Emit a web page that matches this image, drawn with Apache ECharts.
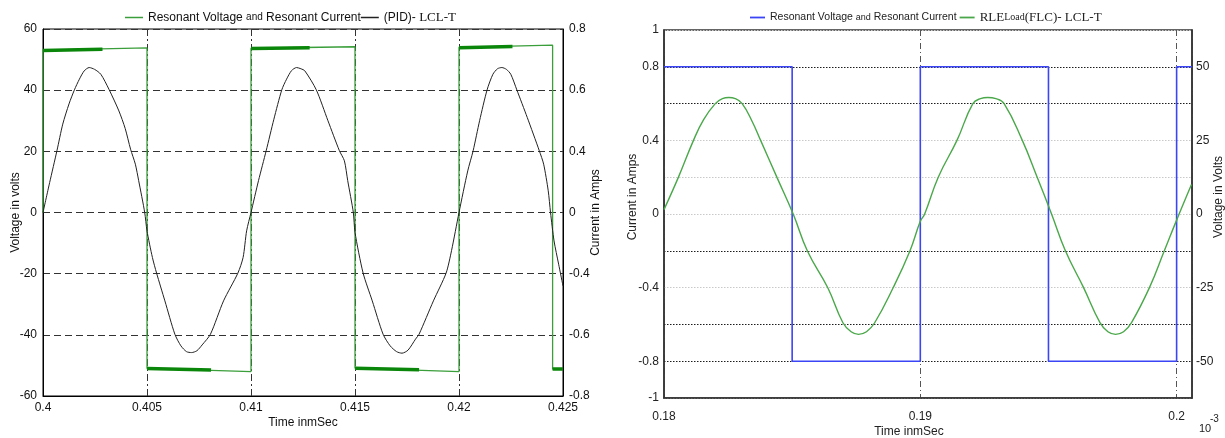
<!DOCTYPE html>
<html>
<head>
<meta charset="utf-8">
<script src="https://cdn.jsdelivr.net/npm/echarts@6/dist/echarts.min.js"></script>
<style>
  html, body { margin: 0; padding: 0; background: #fff; }
  #wrap { position: relative; width: 1225px; height: 438px; overflow: hidden; }
  #pid { position: absolute; left: 0; top: 0; width: 610px; height: 438px; }
  #flc { position: absolute; left: 610px; top: 0; width: 615px; height: 438px; filter: blur(0.55px); }
</style>
</head>
<body>
<div id="wrap"><div id="pid"></div><div id="flc"></div></div>
<script>
// ---- PID controller panel (time in ms, voltage in V) ----
const pidTimeTicks = ['0.4', '0.405', '0.41', '0.415', '0.42', '0.425'];
const pidCurrentTicks = ['-0.8', '-0.6', '-0.4', '0', '0.4', '0.6', '0.8'];

// inverter output voltage (square wave)
const pidVoltage = [
  [0.4, 0], [0.4, 53.1], [0.405, 53.8], [0.405, -51.0], [0.41, -52.0],
  [0.41, 53.7], [0.415, 54.2], [0.415, -50.9], [0.42, -52.0],
  [0.42, 54.0], [0.4245, 54.7], [0.4245, -51.2], [0.425, -51.3]
];

// switching ripple right after each transition
const pidRipple = [
  [[0.4, 53.0], [0.40286, 53.4]],
  [[0.405, -51.0], [0.40808, -51.5]],
  [[0.41, 53.6], [0.41282, 53.9]],
  [[0.415, -50.9], [0.41808, -51.4]],
  [[0.42, 53.9], [0.42257, 54.3]],
  [[0.4245, -51.2], [0.425, -51.2]]
];

// resonant current trace
const pidCurrent = [
  [0.4, 0], [0.40032, 9.8], [0.40067, 20.2], [0.40095, 28.9], [0.40125, 35.5],
  [0.40151, 40.1], [0.40175, 43.6], [0.40198, 46.3], [0.40222, 47.4], [0.40248, 46.8],
  [0.40278, 45.2], [0.40317, 40.3], [0.40365, 33.2], [0.40395, 27.5], [0.40421, 20.7],
  [0.40444, 15.8], [0.4046, 10.4], [0.40489, 0], [0.405, -6.0], [0.40526, -14.7],
  [0.40546, -19.8], [0.40586, -28.9], [0.40634, -39.8], [0.40663, -43.6], [0.4069, -45.5],
  [0.40714, -45.8], [0.4074, -45.2], [0.40765, -43.3], [0.40805, -39.8], [0.40868, -28.9],
  [0.40937, -19.8], [0.40962, -14.7], [0.40979, -6.0], [0.41, 0],
  [0.41036, 10.4], [0.41073, 20.2], [0.4111, 30.5], [0.41148, 40.1], [0.41171, 43.6],
  [0.41195, 46.4], [0.41219, 47.4], [0.4124, 47.0], [0.41259, 46.3], [0.41314, 40.1],
  [0.4137, 30.0], [0.41425, 20.2], [0.41449, 16.9], [0.41465, 10.4], [0.41492, 0],
  [0.415, -6.5], [0.41539, -19.8], [0.41583, -28.9], [0.41635, -39.8], [0.41669, -43.6],
  [0.417, -45.5], [0.41726, -46.0], [0.41755, -45.0], [0.41791, -41.4], [0.41808, -39.8],
  [0.41877, -28.9], [0.41938, -19.8], [0.41964, -12.5], [0.42, 0],
  [0.42042, 13.6], [0.42068, 20.2], [0.42099, 30.0], [0.42135, 40.1], [0.42163, 45.2],
  [0.42185, 47.0], [0.42206, 47.4], [0.42228, 46.8], [0.42249, 45.2], [0.42278, 40.1],
  [0.42328, 31.1], [0.42386, 20.2], [0.42407, 15.8], [0.42429, 7.1], [0.4244, 0],
  [0.42457, -9.3], [0.42479, -16.9], [0.425, -24.0]
];

// ---- FLC controller panel (time in ms x 10^-3) ----
const flcTimeTicks = ['0.18', '0.19', '0.2'];
const flcCurrentTicks = ['1', '0.8', '0.4', '0', '-0.4', '-0.8', '-1'];
const flcVoltTicks = ['50', '25', '0', '-25', '-50'];

const flcVoltage = [
  [0.18, 50], [0.185, 50], [0.185, -50], [0.19, -50], [0.19, 50],
  [0.195, 50], [0.195, -50], [0.2, -50], [0.2, 50], [0.2006, 50]
];

const flcCurrent = [
  [0.18, 0.024], [0.18056, 0.199], [0.18115, 0.40], [0.18154, 0.512], [0.182, 0.60],
  [0.18228, 0.627], [0.18253, 0.633], [0.18278, 0.627], [0.18305, 0.60], [0.18344, 0.503],
  [0.18377, 0.40], [0.18442, 0.195], [0.18504, 0], [0.1856, -0.2025], [0.18639, -0.401],
  [0.18698, -0.591], [0.1873, -0.64], [0.18759, -0.654], [0.1879, -0.64], [0.18822, -0.591],
  [0.18894, -0.401], [0.18959, -0.2025], [0.19, -0.04], [0.19017, 0], [0.1907, 0.2],
  [0.19143, 0.4], [0.19205, 0.6], [0.19235, 0.627], [0.19263, 0.633], [0.19295, 0.627],
  [0.19327, 0.6], [0.19398, 0.4], [0.19456, 0.2], [0.19512, 0], [0.19566, -0.2],
  [0.19637, -0.4], [0.19701, -0.59], [0.19732, -0.64], [0.19762, -0.654], [0.19793, -0.64],
  [0.19824, -0.59], [0.19894, -0.4], [0.19952, -0.2], [0.19998, -0.04], [0.20058, 0.16]
];

const SANS = "'Liberation Sans', Arial, sans-serif";
const SERIF = "'Liberation Serif', 'Times New Roman', serif";

const fmt = v => String(Math.round(v * 1000) / 1000);

// ---------------- left panel ----------------
const pidChart = echarts.init(document.getElementById('pid'), null, { renderer: 'canvas' });
const pidGreen = '#3a9e3a';
const pidSeries = [
  {
    name: 'Resonant Voltage and Resonant Current', type: 'line', yAxisIndex: 0,
    data: pidVoltage, symbol: 'none', lineStyle: { color: pidGreen, width: 1.3 }, itemStyle: { color: pidGreen },
    z: 3
  }
];
pidRipple.forEach(seg => {
  pidSeries.push({
    type: 'line', yAxisIndex: 0, data: seg, symbol: 'none', silent: true,
    lineStyle: { color: '#0a860a', width: 3.5 }, z: 4
  });
});
pidSeries.push({
  name: '(PID)- LCL-T', type: 'line', yAxisIndex: 0, data: pidCurrent, symbol: 'none', smooth: 0.25,
  lineStyle: { color: '#222', width: 1 }, itemStyle: { color: '#222' }, z: 5
});

pidChart.setOption({
  animation: false,
  textStyle: { fontFamily: SANS },
  grid: {
    left: 43, top: 29, width: 520, height: 367, outerBoundsMode: 'none', containLabel: false,
    show: true, borderColor: '#000', borderWidth: 1
  },
  legend: {
    left: 125, top: 11, padding: 0, itemGap: 0, itemWidth: 18, itemHeight: 1.5, icon: 'rect',
    data: ['Resonant Voltage and Resonant Current', '(PID)- LCL-T'],
    formatter: name => name === '(PID)- LCL-T'
      ? '{t|(PID)- }{r|LCL-T}'
      : '{t|Resonant Voltage }{s|and}{t| Resonant Current}',
    textStyle: {
      color: '#111', fontSize: 12, fontFamily: SANS,
      rich: {
        t: { fontSize: 12, fontFamily: SANS, color: '#111' },
        s: { fontSize: 10, fontFamily: SANS, color: '#111' },
        r: { fontSize: 13, fontFamily: SERIF, color: '#111' }
      }
    }
  },
  xAxis: {
    type: 'value', min: 0.4, max: 0.425, interval: 0.005,
    axisLine: { onZero: false, lineStyle: { color: '#000', width: 1 } },
    axisTick: { show: false },
    axisLabel: {
      margin: 6, color: '#111', fontSize: 12, showMinLabel: true, showMaxLabel: true,
      formatter: v => pidTimeTicks[Math.round((v - 0.4) / 0.005)]
    },
    splitLine: { show: true, lineStyle: { color: '#333', width: 1, type: [7, 3, 2, 3] } },
    name: 'Time inmSec', nameLocation: 'middle', nameGap: 21, nameMoveOverlap: false,
    nameTextStyle: { color: '#111', fontSize: 12, fontFamily: SANS }
  },
  yAxis: [
    {
      type: 'value', min: -60, max: 60, interval: 20, position: 'left',
      axisLine: { show: true, onZero: false, lineStyle: { color: '#000', width: 1 } },
      axisTick: { show: false },
      axisLabel: { margin: 6, color: '#111', fontSize: 12, formatter: fmt },
      splitLine: { show: true, lineStyle: { color: '#333', width: 1, type: [7, 4] } },
      name: 'Voltage in volts', nameLocation: 'middle', nameGap: 21, nameMoveOverlap: false,
      nameTextStyle: { color: '#111', fontSize: 12, fontFamily: SANS }
    },
    {
      type: 'value', min: -60, max: 60, interval: 20, position: 'right',
      axisLine: { show: true, onZero: false, lineStyle: { color: '#000', width: 1 } },
      axisTick: { show: false },
      axisLabel: {
        margin: 6, color: '#111', fontSize: 12,
        formatter: v => pidCurrentTicks[Math.round((v + 60) / 20)]
      },
      splitLine: { show: false },
      name: 'Current in Amps', nameLocation: 'middle', nameGap: 27, nameMoveOverlap: false,
      nameTextStyle: { color: '#111', fontSize: 12, fontFamily: SANS }
    }
  ],
  series: pidSeries
});

// ---------------- right panel ----------------
const flcChart = echarts.init(document.getElementById('flc'), null, { renderer: 'canvas' });
const dark = '#1c1c1c', light = '#c9c9c9';
const flcAmpLabel = v => {
  const s = String(Math.round(v * 10) / 10);
  return flcCurrentTicks.indexOf(s) >= 0 ? s : '';
};
const flcVoltLabel = v => {
  const s = String(Math.round(v * 10) / 10);
  return flcVoltTicks.indexOf(s) >= 0 ? s : '';
};

flcChart.setOption({
  animation: false,
  textStyle: { fontFamily: SANS },
  grid: {
    left: 54, top: 30, width: 528, height: 368, outerBoundsMode: 'none', containLabel: false,
    show: true, borderColor: '#333', borderWidth: 1.5
  },
  legend: {
    left: 140, top: 11, padding: 0, itemGap: 3, itemWidth: 15, itemHeight: 1.8, icon: 'rect',
    data: ['Resonant Voltage and Resonant Current', 'RLELoad(FLC)- LCL-T'],
    formatter: name => name === 'RLELoad(FLC)- LCL-T'
      ? '{r|RLE}{rs|Load}{r|(FLC)- LCL-T}'
      : '{t|Resonant Voltage }{s|and}{t| Resonant Current}',
    textStyle: {
      color: '#222', fontSize: 10.5, fontFamily: SANS,
      rich: {
        t: { fontSize: 10.5, fontFamily: SANS, color: '#222' },
        s: { fontSize: 9, fontFamily: SANS, color: '#222' },
        r: { fontSize: 13, fontFamily: SERIF, color: '#222' },
        rs: { fontSize: 10, fontFamily: SERIF, color: '#222' }
      }
    }
  },
  xAxis: {
    type: 'value', min: 0.18, max: 0.2006, interval: 0.01,
    axisLine: { onZero: false, lineStyle: { color: '#333', width: 1.5 } },
    axisTick: { show: false },
    axisLabel: {
      margin: 13, color: '#222', fontSize: 12, showMinLabel: true, showMaxLabel: false,
      formatter: v => flcTimeTicks[Math.round((v - 0.18) / 0.01)] || ''
    },
    splitLine: { show: true, lineStyle: { color: '#555', width: 1, type: [6, 3, 1, 3] } },
    name: 'Time inmSec', nameLocation: 'middle', nameGap: 28, nameMoveOverlap: false,
    nameTextStyle: { color: '#222', fontSize: 12, fontFamily: SANS, padding: [0, 38, 0, 0] }
  },
  yAxis: [
    {
      type: 'value', min: -1, max: 1, interval: 0.2, position: 'left',
      axisLine: { show: true, onZero: false, lineStyle: { color: '#333', width: 1.5 } },
      axisTick: { show: false },
      axisLabel: { margin: 5, color: '#222', fontSize: 12, formatter: flcAmpLabel },
      splitLine: {
        show: true,
        lineStyle: { width: 1, type: [1.5, 1.5], color: [light, dark, dark, light, dark, light, light, light, dark, dark, light] }
      },
      name: 'Current in Amps', nameLocation: 'middle', nameGap: 25, nameMoveOverlap: false,
      nameTextStyle: { color: '#222', fontSize: 12, fontFamily: SANS, padding: [0, 0, 0, 34] }
    },
    {
      type: 'value', min: -62.5, max: 62.5, interval: 12.5, position: 'right',
      axisLine: { show: true, onZero: false, lineStyle: { color: '#333', width: 1.5 } },
      axisTick: { show: false },
      axisLabel: { margin: 4, color: '#222', fontSize: 12, formatter: flcVoltLabel },
      splitLine: { show: false },
      name: 'Voltage in Volts', nameLocation: 'middle', nameGap: 21, nameMoveOverlap: false,
      nameTextStyle: { color: '#222', fontSize: 12, fontFamily: SANS, padding: [0, 0, 0, 34] }
    }
  ],
  graphic: [
    { type: 'text', left: 589, top: 423, style: { text: '10', font: '11px ' + SANS, fill: '#222' } },
    { type: 'text', left: 600, top: 414, style: { text: '-3', font: '10px ' + SANS, fill: '#222' } }
  ],
  series: [
    {
      name: 'Resonant Voltage and Resonant Current', type: 'line', yAxisIndex: 1,
      data: flcVoltage, symbol: 'none', lineStyle: { color: '#3b45f5', width: 1.6 }, itemStyle: { color: '#3b45f5' }, z: 3
    },
    {
      name: 'RLELoad(FLC)- LCL-T', type: 'line', yAxisIndex: 0,
      data: flcCurrent, symbol: 'none', smooth: 0.45,
      lineStyle: { color: '#4aa84a', width: 1.4 }, itemStyle: { color: '#4aa84a' }, z: 4
    }
  ]
});
</script>
</body>
</html>
